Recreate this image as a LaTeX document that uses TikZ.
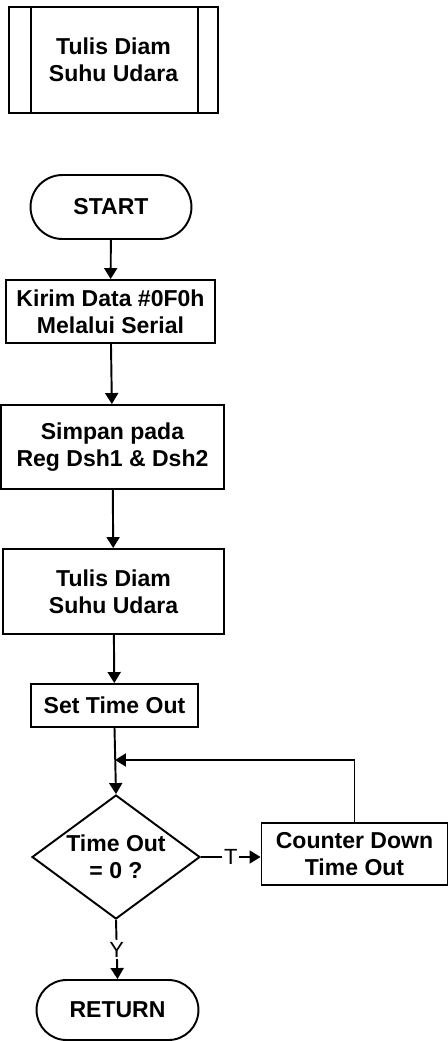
\documentclass[tikz,border=0pt]{standalone}
\usepackage{fontspec}
\setmainfont{Liberation Sans}
\usetikzlibrary{arrows.meta,positioning,shapes.geometric,shapes.misc,calc}

\begin{document}
\begin{tikzpicture}[x=0.02cm,y=-0.02cm,
  proc/.style={draw,line width=1.1pt,align=center,
    font=\fontsize{13.1pt}{15.4pt}\selectfont\bfseries,inner sep=2pt},
  term/.style={proc,rounded rectangle},
  decis/.style={proc,diamond,aspect=1.355,inner sep=0pt,
    minimum width=3.36cm,minimum height=2.48cm},
  lbl/.style={font=\fontsize{12.5pt}{14pt}\selectfont,fill=white,inner sep=1pt},
  flow/.style={line width=1.1pt,-{Triangle[length=2.2mm,width=2.6mm]}}
]
  \useasboundingbox (0,0) rectangle (448,1041);

  % Predefined process
  \node[proc,minimum width=4.18cm,minimum height=2.12cm] (pre) at (113.5,60) {Tulis Diam\\Suhu Udara};
  \draw[line width=1.1pt] ($(pre.north west)+(23,0)$) -- ($(pre.south west)+(23,0)$);
  \draw[line width=1.1pt] ($(pre.north east)+(-21,0)$) -- ($(pre.south east)+(-21,0)$);

  % Main flow
  \node[term,minimum width=3.36cm,minimum height=1.28cm] (start) at (111,207) {START};
  \node[proc,minimum width=4.18cm,minimum height=1.26cm] (kirim) at (110.5,311.5) {Kirim Data \#0F0h\\Melalui Serial};
  \node[proc,minimum width=4.46cm,minimum height=1.68cm] (simpan) at (112.5,447) {Simpan pada\\Reg Dsh1 \& Dsh2};
  \node[proc,minimum width=4.42cm,minimum height=1.70cm] (tulis) at (113.5,591.5) {Tulis Diam\\Suhu Udara};
  \node[proc,minimum width=3.34cm,minimum height=0.86cm] (settime) at (114.5,705.5) {Set Time Out};
  \node[decis] (cek) at (116,857) {Time Out\\= 0 ?};
  \node[proc,minimum width=3.72cm,minimum height=1.24cm] (counter) at (354.5,854) {Counter Down\\Time Out};
  \node[term,minimum width=3.38cm,minimum height=1.20cm] (ret) at (117.5,1010) {RETURN};
  \coordinate (j) at (115,760);

  % Connectors
  \draw[flow] (start) -- (kirim);
  \draw[flow] (kirim) -- (simpan);
  \draw[flow] (simpan) -- (tulis);
  \draw[flow] (tulis) -- (settime);
  \draw[flow] (settime.south) -- (cek.north);
  \draw[flow] (counter.north) |- (j);
  \draw[flow] (cek.east) -- node[lbl]{T} (cek.east -| counter.west);
  \draw[flow] (cek.south) -- node[lbl]{Y} (ret.north);
\end{tikzpicture}
\end{document}
